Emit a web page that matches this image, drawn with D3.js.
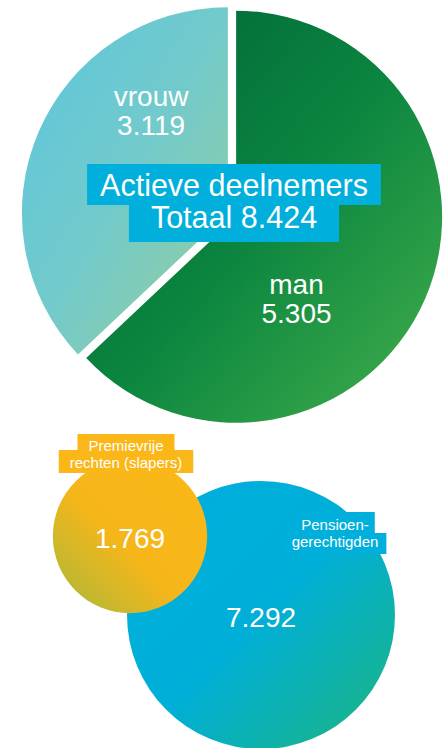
<!DOCTYPE html>
<html>
<head>
<meta charset="utf-8">
<script src="https://cdn.jsdelivr.net/npm/d3@7"></script>
<style>
body { margin: 0; background: #fff; }
svg text { font-family: "Liberation Sans", Arial, sans-serif; fill: #fff; }
</style>
</head>
<body>
<svg id="chart" width="445" height="748"></svg>
<script>
// actieve deelnemers (pie)
var activeLabels = ["man", "vrouw"];
var activeValues = [5305, 3119];
var activeTitle = "Actieve deelnemers";

// other groups (bubbles)
var groupLabels = [["Premievrije", "rechten (slapers)"], ["Pensioen-", "gerechtigden"]];
var groupValues = [1769, 7292];

var nl = d3.formatLocale({decimal: ",", thousands: ".", grouping: [3], currency: ["€", ""]});
var fmt = nl.format(",d");

var svg = d3.select('#chart');
var defs = svg.append('defs');

function gradient(id, x1, y1, x2, y2, stops) {
    var g = defs.append('linearGradient')
        .attr('id', id)
        .attr('x1', x1).attr('y1', y1)
        .attr('x2', x2).attr('y2', y2);
    stops.forEach(function (s) {
        g.append('stop').attr('offset', s[0]).attr('stop-color', s[1]);
    });
}

gradient('g-man', 0, 0, 1, 1, [[0, '#00623a'], [0.5, '#0b853f'], [1, '#44b04c']]);
gradient('g-vrouw', 0, 0, 1, 1, [[0, '#5cc6de'], [0.5, '#72cacb'], [1, '#97cd9a']]);
gradient('g-slapers', 1, 0, 0, 1, [[0, '#fbb716'], [0.55, '#f6b61a'], [1, '#a3b83d']]);
gradient('g-pensioen', 0, 0, 1, 1, [[0, '#00aedd'], [0.5, '#00afd8'], [1, '#1db57c']]);

// ---- pie ----
var pieX = 232, pieY = 215, radius = 206, explode = 4.5;

var pie = d3.pie().sort(null).value(function (d) { return d.value; });
var arc = d3.arc().innerRadius(0).outerRadius(radius);

var slices = pie(activeLabels.map(function (l, i) {
    return {label: l, value: activeValues[i]};
}));

var sliceFill = {man: 'url(#g-man)', vrouw: 'url(#g-vrouw)'};
// label spot relative to the slice centre (angle in degrees clockwise from top, distance)
var labelSpot = {man: [146, 108], vrouw: [321, 122]};

var sliceG = svg.selectAll('g.slice').data(slices).enter().append('g')
    .attr('class', 'slice')
    .attr('transform', function (d) {
        var mid = (d.startAngle + d.endAngle) / 2;
        var dx = Math.sin(mid) * explode, dy = -Math.cos(mid) * explode;
        return 'translate(' + (pieX + dx) + ',' + (pieY + dy) + ')';
    });

sliceG.append('path')
    .attr('d', arc)
    .attr('fill', function (d) { return sliceFill[d.data.label]; });

sliceG.each(function (d) {
    var s = labelSpot[d.data.label];
    var a = s[0] * Math.PI / 180;
    var lx = Math.sin(a) * s[1], ly = -Math.cos(a) * s[1];
    var t = d3.select(this).append('text')
        .attr('text-anchor', 'middle')
        .style('font-size', '28px');
    t.append('tspan').attr('x', lx).attr('y', ly - 12).text(d.data.label);
    t.append('tspan').attr('x', lx).attr('y', ly + 17).text(fmt(d.data.value));
});

// lines of text (one text element) with a coloured box behind each line
function boxedLines(lines, cx, baselines, boxes, pads, size, color) {
    var g = svg.append('g');
    var rects = lines.map(function () { return g.append('rect').attr('fill', color); });
    var t = g.append('text')
        .attr('text-anchor', 'middle')
        .style('font-size', size + 'px');
    lines.forEach(function (line, i) {
        var ts = t.append('tspan')
            .attr('x', cx)
            .attr('y', baselines[i])
            .text(line);
        var w = ts.node().getComputedTextLength();
        rects[i]
            .attr('x', cx - w / 2 - pads[i])
            .attr('y', boxes[i][0])
            .attr('width', w + pads[i] * 2)
            .attr('height', boxes[i][1] - boxes[i][0]);
    });
}

boxedLines([activeTitle, 'Totaal ' + fmt(d3.sum(activeValues))],
    234, [196, 228], [[164, 205], [205, 242]], [13, 22], 30.5, '#00afdb');

// ---- bubbles ----
var rScale = d3.scaleSqrt()
    .domain([0, d3.max(groupValues)])
    .range([22, 134]);

var bubbles = [
    {i: 1, cx: 261, cy: 615, fill: 'url(#g-pensioen)'},
    {i: 0, cx: 130, cy: 536, fill: 'url(#g-slapers)'}
];

svg.selectAll('circle.bubble').data(bubbles).enter().append('circle')
    .attr('class', 'bubble')
    .attr('cx', function (d) { return d.cx; })
    .attr('cy', function (d) { return d.cy; })
    .attr('r', function (d) { return rScale(groupValues[d.i]); })
    .attr('fill', function (d) { return d.fill; });

svg.selectAll('text.value').data(bubbles).enter().append('text')
    .attr('class', 'value')
    .attr('x', function (d) { return d.cx; })
    .attr('y', function (d) { return d.cy + 12; })
    .attr('text-anchor', 'middle')
    .style('font-size', '28px')
    .text(function (d) { return fmt(groupValues[d.i]); });

boxedLines(groupLabels[0], 126, [451, 468], [[434, 450], [450, 473]], [11, 11], 15, '#fbb718');
boxedLines(groupLabels[1], 335, [530, 547], [[512, 533], [533, 554]], [6, 8], 15, '#00afdb');
</script>
</body>
</html>
